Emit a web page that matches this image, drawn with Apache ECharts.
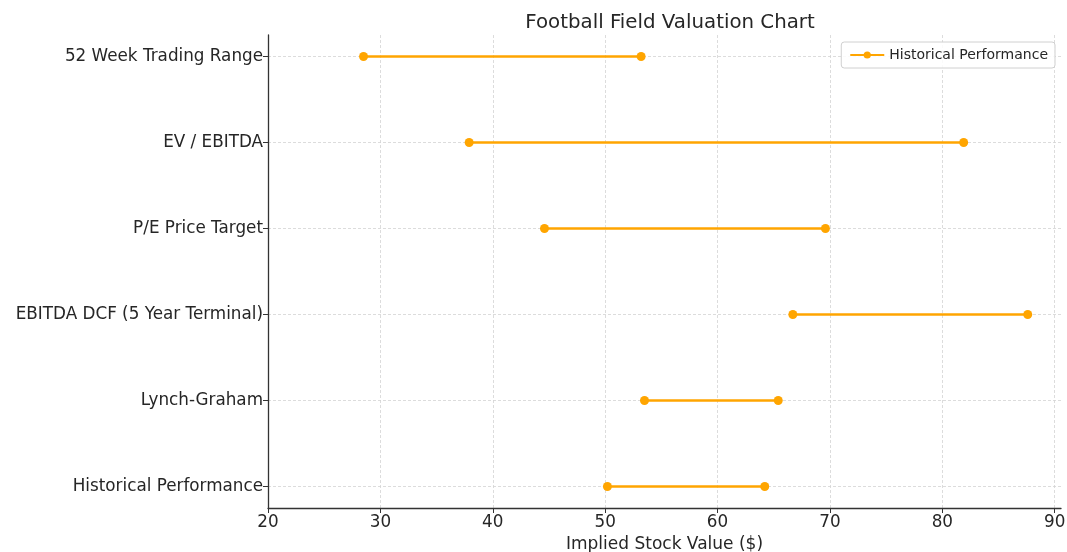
<!DOCTYPE html>
<html>
<head>
<meta charset="utf-8">
<title>Football Field Valuation Chart</title>
<script src="https://cdn.jsdelivr.net/npm/echarts@6/dist/echarts.min.js"></script>
<style>
  html, body { margin: 0; padding: 0; background: #ffffff; }
  #chart { width: 1067px; height: 552px; }
</style>
</head>
<body>
<div id="chart"></div>
<script>
// Valuation methods, listed top to bottom
const categories = [
  '52 Week Trading Range',
  'EV / EBITDA',
  'P/E Price Target',
  'EBITDA DCF (5 Year Terminal)',
  'Lynch-Graham',
  'Historical Performance'
];
// Low and high implied values per method ($)
const lowValues  = [28.5, 37.9, 44.6, 66.7, 53.5, 50.2];
const highValues = [53.2, 81.9, 69.6, 87.6, 65.4, 64.2];
// X axis tick labels
const xTicks = [20, 30, 40, 50, 60, 70, 80, 90];

const ORANGE = '#FFA500';
const TEXT = '#262626';
const FONT = 'DejaVu Sans';
const yIdx = categories.map((_, i) => i);

const series = categories.map((name, i) => ({
  name: name,
  type: 'line',
  data: [[lowValues[i], i], [highValues[i], i]],
  symbol: 'circle',
  symbolSize: 9,
  lineStyle: { color: ORANGE, width: 2.3 },
  itemStyle: { color: ORANGE },
  emphasis: { disabled: true },
  animation: false
}));

const chart = echarts.init(document.getElementById('chart'), null, { renderer: 'canvas' });
chart.setOption({
  backgroundColor: '#ffffff',
  textStyle: { fontFamily: FONT },
  title: {
    text: 'Football Field Valuation Chart',
    left: 665, top: 8, textAlign: 'center',
    textStyle: { fontFamily: FONT, fontSize: 19.8, fontWeight: 'normal', color: TEXT }
  },
  legend: {
    data: ['Historical Performance'],
    right: 12, top: 42,
    padding: [6, 7, 6, 8],
    itemGap: 6,
    borderColor: '#d0d0d0', borderWidth: 1, borderRadius: 3,
    backgroundColor: 'rgba(255,255,255,0.85)',
    itemWidth: 34, itemHeight: 9,
    textStyle: { fontFamily: FONT, fontSize: 14, color: TEXT },
    selectedMode: false
  },
  grid: { left: 268, right: 6, top: 35, bottom: 44, containLabel: false, outerBoundsMode: 'none' },
  xAxis: {
    type: 'value',
    min: 20, max: 90.56,
    name: 'Implied Stock Value ($)',
    nameLocation: 'middle', nameGap: 28,
    nameTextStyle: { fontFamily: FONT, fontSize: 17, color: TEXT },
    axisLine: { show: true, onZero: false, lineStyle: { color: '#333333', width: 1.3 } },
    axisTick: { show: true, length: 5, customValues: xTicks, lineStyle: { color: '#333333' } },
    axisLabel: { customValues: xTicks, margin: 6, fontFamily: FONT, fontSize: 16.8, color: TEXT },
    splitLine: { show: true, customValues: xTicks, lineStyle: { color: '#d3d3d3', type: [3, 2], width: 0.8 } }
  },
  yAxis: {
    type: 'value',
    min: -0.25, max: 5.25,
    inverse: true,
    axisLine: { show: true, onZero: false, lineStyle: { color: '#333333', width: 1.3 } },
    axisTick: { show: true, length: 5, customValues: yIdx, lineStyle: { color: '#333333' } },
    axisLabel: {
      customValues: yIdx, margin: 5,
      fontFamily: FONT, fontSize: 16.8, color: TEXT,
      formatter: v => categories[Math.round(v)] || ''
    },
    splitLine: { show: true, customValues: yIdx, lineStyle: { color: '#d3d3d3', type: [3, 2], width: 0.8 } }
  },
  series: series
});
</script>
</body>
</html>
